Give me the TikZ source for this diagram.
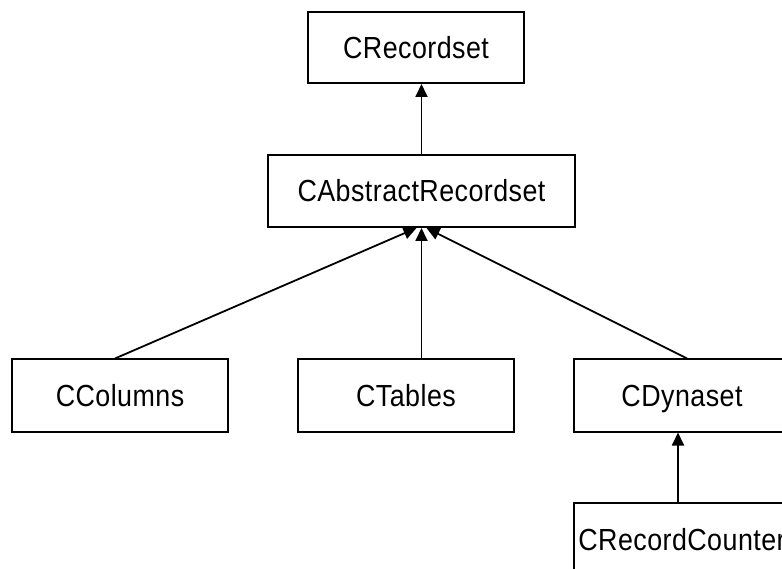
\documentclass[tikz,border=0pt]{standalone}
\usepackage{fontspec}
\setmainfont[FakeStretch=0.88, LetterSpace=1.5]{Liberation Sans}
\usetikzlibrary{arrows.meta}

\begin{document}
\begin{tikzpicture}[x=1pt, y=-1pt,
  cls/.style={draw, line width=2pt, inner sep=0pt,
    minimum width=216pt, minimum height=72pt,
    font=\fontsize{30.5}{33}\selectfont,
    text height=22pt, text depth=0pt},
  inh/.style={line width=1.8pt, -{Triangle[length=13pt,width=12pt]}}]
  \useasboundingbox (0,0) rectangle (782,569);
  \clip (0,0) rectangle (782,569);

  % class boxes
  \node[cls, minimum height=71pt] (rs) at (416,47.5) {CRecordset};
  \node[cls, minimum width=307pt] (ars) at (421.5,191) {CAbstractRecordset};
  \node[cls] (cols) at (120,395.5) {CColumns};
  \node[cls] (tabs) at (406,395.5) {CTables};
  \node[cls] (dyn) at (682,395.5) {CDynaset};
  \node[cls] (rc) at (682,539) {CRecordCounter};

  % inheritance arrows (child -> base)
  \draw[inh] (ars.north) -- (ars.north |- rs.south);
  \draw[inh] ([xshift=-5pt]cols.north) -- ([xshift=-5pt]ars.south);
  \draw[inh] (tabs.north -| ars.south) -- (ars.south);
  \draw[inh] ([xshift=5pt]dyn.north) -- ([xshift=5pt]ars.south);
  \draw[inh] ([xshift=-4pt]rc.north) -- ([xshift=-4pt]dyn.south);
\end{tikzpicture}
\end{document}
